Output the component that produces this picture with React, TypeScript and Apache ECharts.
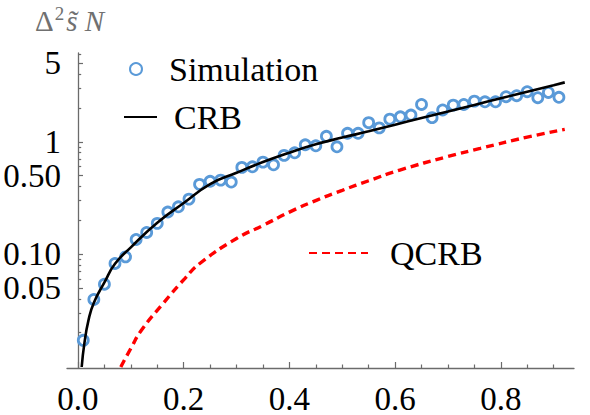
import React, { useEffect, useRef } from "react";
import * as echarts from "echarts";

const simX = [0.01, 0.03, 0.05, 0.07, 0.09, 0.11, 0.13, 0.15, 0.17, 0.19, 0.21, 0.23, 0.25, 0.27, 0.29, 0.31, 0.33, 0.35, 0.37, 0.39, 0.41, 0.43, 0.45, 0.47, 0.49, 0.51, 0.53, 0.55, 0.57, 0.59, 0.61, 0.63, 0.65, 0.67, 0.69, 0.71, 0.73, 0.75, 0.77, 0.79, 0.81, 0.83, 0.85, 0.87, 0.89, 0.91];
const simY = [0.0171, 0.0395, 0.054, 0.0826, 0.0946, 0.135, 0.156, 0.188, 0.237, 0.264, 0.309, 0.418, 0.445, 0.456, 0.438, 0.592, 0.599, 0.659, 0.624, 0.757, 0.798, 0.94, 0.921, 1.12, 0.902, 1.19, 1.19, 1.48, 1.33, 1.59, 1.67, 1.73, 2.15, 1.64, 1.92, 2.12, 2.15, 2.3, 2.27, 2.27, 2.52, 2.57, 2.79, 2.47, 2.75, 2.49];

const crbX = [0.007, 0.012, 0.02, 0.03, 0.05, 0.07, 0.1, 0.15, 0.2, 0.25, 0.3, 0.35, 0.4, 0.45, 0.5, 0.55, 0.6, 0.65, 0.7, 0.75, 0.8, 0.85, 0.9, 0.921];
const crbY = [0.0099, 0.016, 0.026, 0.037, 0.056, 0.082, 0.115, 0.19, 0.285, 0.42, 0.53, 0.66, 0.8, 0.95, 1.09, 1.24, 1.42, 1.63, 1.86, 2.13, 2.44, 2.79, 3.19, 3.38];

const qcrbX = [0.081, 0.1, 0.12, 0.161, 0.2025, 0.231, 0.3, 0.35, 0.401, 0.452, 0.5, 0.55, 0.609, 0.7, 0.761, 0.85, 0.921];
const qcrbY = [0.0099, 0.0145, 0.021, 0.0364, 0.061, 0.083, 0.138, 0.18, 0.238, 0.303, 0.37, 0.45, 0.56, 0.74, 0.873, 1.1, 1.29];

const xMajorTicks = [0, 0.2, 0.4, 0.6, 0.8];
const xMinorTicks = [0.05, 0.1, 0.15, 0.25, 0.3, 0.35, 0.45, 0.5, 0.55, 0.65, 0.7, 0.75, 0.85, 0.9];
const yMajorTicks = [0.05, 0.1, 0.5, 1, 5];
const yMinorTicks = [0.02, 0.03, 0.04, 0.06, 0.07, 0.08, 0.09, 0.2, 0.3, 0.4, 0.6, 0.7, 0.8, 0.9, 2, 3, 4, 6];

const X_MIN = -0.0208;
const X_MAX = 0.9385;
const Y_MIN = 0.0097;
const Y_MAX = 6.17;

const AXIS_COLOR = "#6b6b6b";
const SERIF = "Liberation Serif";
const BLUE = "#5a9ad8";
const TITLE_COLOR = "#707070";

function yFmt(v: number): string {
  if (v >= 1) return String(Math.round(v));
  return (Math.round(v * 100) / 100).toFixed(2);
}

export default function App() {
  const ref = useRef<HTMLDivElement>(null);
  useEffect(() => {
    if (!ref.current) return;
    const chart = echarts.init(ref.current, null, { renderer: "svg" });
    const baseY = {
      type: "log" as const,
      logBase: 10,
      min: Y_MIN,
      max: Y_MAX,
      position: "left" as const,
      splitLine: { show: false },
      minorTick: { show: false },
    };
    const baseX = {
      type: "value" as const,
      min: X_MIN,
      max: X_MAX,
      position: "bottom" as const,
      splitLine: { show: false },
    };
    const legendText = { fontFamily: SERIF, fontSize: 34, color: "#000", fontWeight: "normal" as const };
    chart.setOption({
      animation: false,
      grid: {
        left: 67,
        top: 53,
        width: 507,
        height: 315,
        containLabel: false,
        outerBoundsMode: "none",
      },
      title: {
        left: 35,
        top: 4,
        padding: 0,
        text: "{d|Δ}{sup|2}{s|s̃}{n| N}",
        textStyle: {
          fontFamily: SERIF,
          fontWeight: "normal",
          rich: {
            d: { fontFamily: SERIF, fontSize: 29, color: TITLE_COLOR, fontWeight: "normal" },
            sup: { fontFamily: SERIF, fontSize: 19, color: TITLE_COLOR, fontWeight: "normal", padding: [0, 2, 14, 1] },
            s: { fontFamily: SERIF, fontSize: 29, fontStyle: "italic", color: TITLE_COLOR, fontWeight: "normal" },
            n: { fontFamily: SERIF, fontSize: 29, fontStyle: "italic", color: TITLE_COLOR, fontWeight: "normal" },
          },
        },
      },
      legend: [
        {
          data: ["Simulation"],
          left: 129,
          top: 52,
          padding: 0,
          itemWidth: 12,
          itemHeight: 12,
          textStyle: { ...legendText, padding: [0, 0, 0, 22] },
          selectedMode: false,
        },
        {
          data: ["CRB"],
          left: 123,
          top: 100,
          padding: 0,
          itemWidth: 33,
          itemHeight: 2,
          itemStyle: { opacity: 0 },
          textStyle: { ...legendText, padding: [0, 0, 0, 12] },
          selectedMode: false,
        },
        {
          data: ["QCRB"],
          left: 308,
          top: 236,
          padding: 0,
          itemWidth: 59,
          itemHeight: 2,
          itemStyle: { opacity: 0 },
          textStyle: { ...legendText, padding: [0, 0, 0, 17] },
          selectedMode: false,
        },
      ],
      xAxis: [
        {
          ...baseX,
          axisLine: { show: true, onZero: false, lineStyle: { color: AXIS_COLOR, width: 1.3 } },
          axisTick: {
            show: true,
            inside: true,
            length: 6,
            customValues: xMajorTicks,
            lineStyle: { color: AXIS_COLOR, width: 1.2 },
          },
          axisLabel: {
            show: true,
            customValues: xMajorTicks,
            formatter: (v: number) => v.toFixed(1),
            fontFamily: SERIF,
            fontSize: 33,
            color: "#000",
            margin: 14,
          },
        },
        {
          ...baseX,
          axisLine: { show: false, onZero: false },
          axisTick: {
            show: true,
            inside: true,
            length: 3.5,
            customValues: xMinorTicks,
            lineStyle: { color: AXIS_COLOR, width: 1.2 },
          },
          axisLabel: { show: false },
        },
      ],
      yAxis: [
        {
          ...baseY,
          axisLine: { show: true, onZero: true, lineStyle: { color: AXIS_COLOR, width: 1.3 } },
          axisTick: {
            show: true,
            inside: true,
            length: 5,
            customValues: yMajorTicks,
            lineStyle: { color: AXIS_COLOR, width: 1.2 },
          },
          axisLabel: {
            show: true,
            customValues: yMajorTicks,
            formatter: (v: number) => yFmt(v),
            fontFamily: SERIF,
            fontSize: 33,
            color: "#000",
            margin: 6,
          },
        },
        {
          ...baseY,
          axisLine: { show: false, onZero: true },
          axisTick: {
            show: true,
            inside: true,
            length: 3.2,
            customValues: yMinorTicks,
            lineStyle: { color: AXIS_COLOR, width: 1.2 },
          },
          axisLabel: { show: false },
        },
      ],
      series: [
        {
          name: "Simulation",
          type: "scatter",
          xAxisIndex: 0,
          yAxisIndex: 0,
          data: simX.map((x, i) => [x, simY[i]]),
          symbol: "circle",
          symbolSize: 10,
          itemStyle: { color: "#ffffff", borderColor: BLUE, borderWidth: 2.8, opacity: 1 },
          z: 2,
        },
        {
          name: "CRB",
          type: "line",
          xAxisIndex: 0,
          yAxisIndex: 0,
          data: crbX.map((x, i) => [x, crbY[i]]),
          smooth: true,
          symbol: "none",
          lineStyle: { color: "#000", width: 2.6 },
          itemStyle: { color: "#000" },
          clip: true,
          z: 3,
        },
        {
          name: "QCRB",
          type: "line",
          xAxisIndex: 0,
          yAxisIndex: 0,
          data: qcrbX.map((x, i) => [x, qcrbY[i]]),
          smooth: true,
          symbol: "none",
          lineStyle: { color: "#ff0000", width: 3.4, type: [8, 5] },
          itemStyle: { color: "#ff0000" },
          clip: true,
          z: 3,
        },
      ],
    });
    return () => chart.dispose();
  }, []);
  return (
    <div
      ref={ref}
      style={{ position: "fixed", left: 0, top: 0, width: 590, height: 415, background: "#fff" }}
    />
  );
}
